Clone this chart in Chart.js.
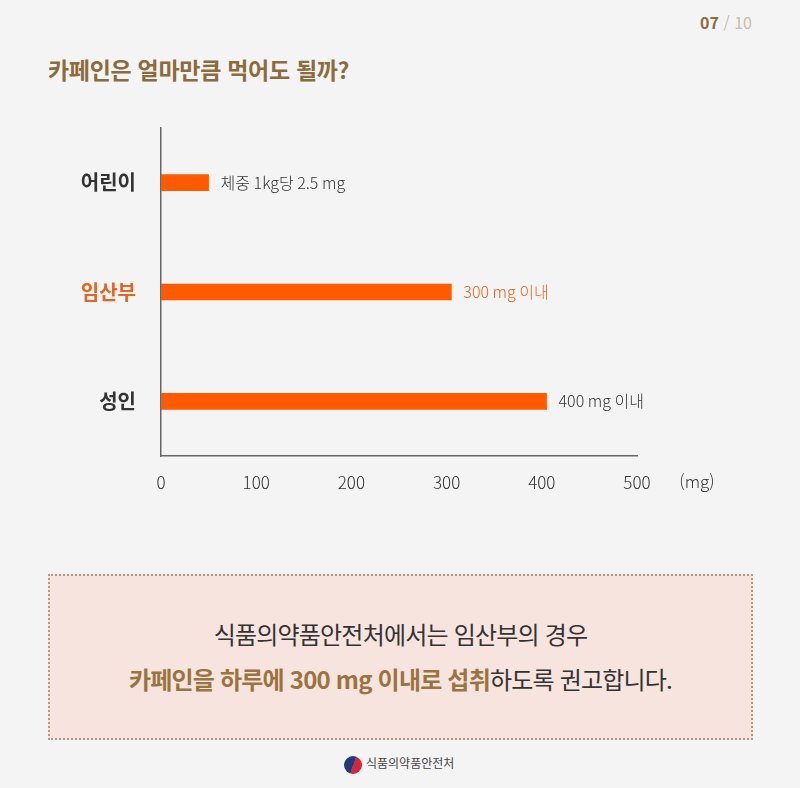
<!DOCTYPE html>
<html lang="ko">
<head>
<meta charset="utf-8">
<script src="https://cdn.jsdelivr.net/npm/chart.js@4/dist/chart.umd.min.js"></script>
<style>
  body { margin: 0; background: #f4f4f4; font-family: "Noto Sans CJK KR", "Noto Sans", sans-serif; }
  #page { position: relative; width: 800px; height: 788px; background: #f4f4f4; overflow: hidden; }
  #num { position: absolute; right: 48px; top: 10px; font-size: 16px; font-weight: 700; color: #8c6b3c; }
  #num span { color: #c9bca8; font-weight: 400; }
  #title { position: absolute; left: 48px; top: 52px; font-size: 23px; font-weight: 700; color: #8c6b3c; letter-spacing: -0.3px; }
  #wrap { position: absolute; left: 0; top: 91px; width: 800px; height: 429px; }
  #box { position: absolute; left: 48px; top: 574px; width: 701px; height: 162px; background: #f7e4de;
         border: 2px dotted #b39a80; text-align: center; color: #333; }
  #box .l1 { position: absolute; left: 0; right: 0; top: 40px; font-size: 24px; letter-spacing: -0.8px; }
  #box .l2 { position: absolute; left: 0; right: 0; top: 85px; font-size: 24px; letter-spacing: -0.8px; }
  #box b { color: #9a7440; }
  #logo { position: absolute; left: 344px; top: 754px; font-size: 12px; color: #444; }
  #logo i { display: inline-block; width: 18px; height: 18px; border-radius: 50%; vertical-align: middle; margin-right: 4px;
            background: conic-gradient(from 200deg, #1f3a7a 0deg 180deg, #d3263a 180deg 360deg); }
</style>
</head>
<body>
<div id="page">
  <div id="num">07 <span>/ 10</span></div>
  <div id="title">카페인은 얼마만큼 먹어도 될까?</div>
  <div id="wrap"><canvas id="myChart" width="800" height="429"></canvas></div>
  <div id="box">
    <div class="l1">식품의약품안전처에서는 임산부의 경우</div>
    <div class="l2"><b>카페인을 하루에 300 mg 이내로 섭취</b>하도록 권고합니다.</div>
  </div>
  <div id="logo"><i></i>식품의약품안전처</div>
</div>
<script>
const categories = ['어린이', '임산부', '성인'];
const values = [50, 305, 405];
const valueLabels = ['체중 1kg당 2.5 mg', '300 mg 이내', '400 mg 이내'];
const labelColors = ['#333333', '#e8651f', '#333333'];
const xTicks = [0, 100, 200, 300, 400, 500];
const unitLabel = '(mg)';

const barLabels = {
    id: 'barLabels',
    afterDatasetsDraw(chart) {
        const ctx = chart.ctx;
        const meta = chart.getDatasetMeta(0);
        ctx.save();
        ctx.font = '300 16px "Noto Sans CJK KR"';
        ctx.textBaseline = 'middle';
        meta.data.forEach((bar, i) => {
            ctx.fillStyle = labelColors[i];
            ctx.fillText(valueLabels[i], bar.x + 12, bar.y);
        });
        // unit next to the tick labels
        const x = chart.scales.x;
        ctx.font = '300 17px "Noto Sans CJK KR"';
        ctx.fillStyle = '#333';
        ctx.textAlign = 'center';
        ctx.fillText(unitLabel, x.getPixelForValue(500) + 60, chart.chartArea.bottom + 26);
        ctx.restore();
    }
};

const ctx = document.getElementById('myChart').getContext('2d');
const myChart = new Chart(ctx, {
    type: 'bar',
    data: {
        labels: categories,
        datasets: [{
            data: values,
            backgroundColor: '#ff5a00',
            barThickness: 16
        }]
    },
    options: {
        indexAxis: 'y',
        responsive: false,
        animation: false,
        events: [],
        layout: { padding: { top: 12, right: 163, bottom: 0, left: 0 } },
        plugins: { legend: { display: false }, tooltip: { enabled: false } },
        scales: {
            x: {
                min: 0,
                max: 500,
                afterBuildTicks: (s) => { s.ticks = xTicks.map(v => ({ value: v })); },
                afterFit: (s) => { s.height = 64; },
                grid: { display: false, drawTicks: false },
                border: { display: true, color: '#666', width: 1.5 },
                ticks: {
                    padding: 16,
                    color: '#333',
                    font: { family: 'Noto Sans CJK KR', size: 17, weight: 300 }
                }
            },
            y: {
                afterFit: (s) => { s.width = 161; },
                grid: { display: false, drawTicks: false },
                border: { display: true, color: '#666', width: 1.5 },
                ticks: {
                    padding: 25,
                    color: (c) => labelColors[c.index],
                    font: { family: 'Noto Sans CJK KR', size: 20, weight: 700 }
                }
            }
        }
    },
    plugins: [barLabels]
});
</script>
</body>
</html>
